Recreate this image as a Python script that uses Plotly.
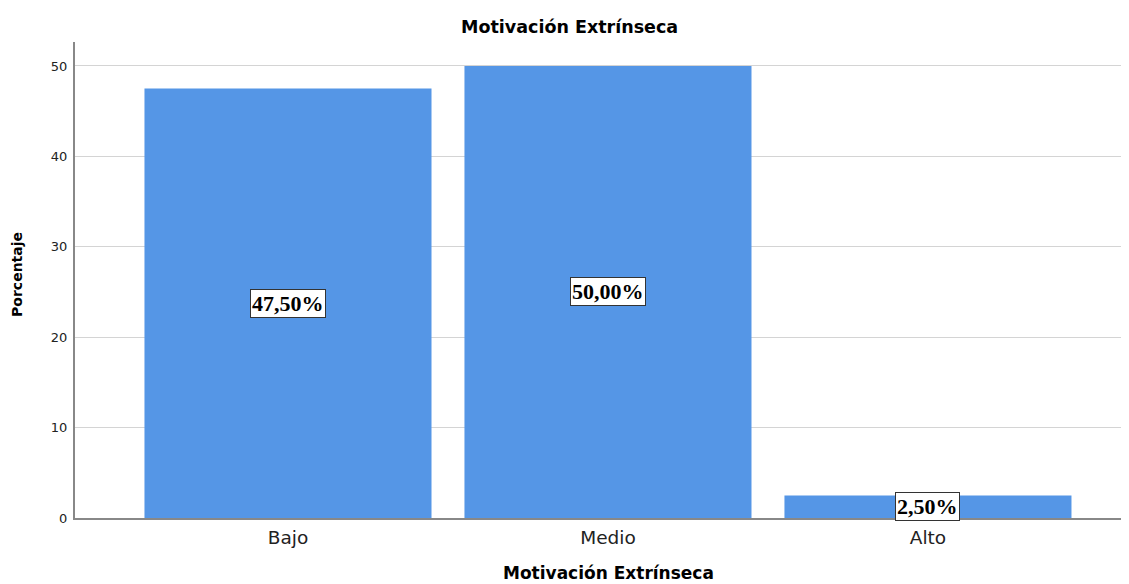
import plotly.graph_objects as go

categorias = ["Bajo", "Medio", "Alto"]
porcentajes = [47.5, 50.0, 2.5]
etiquetas = ["47,50%", "50,00%", "2,50%"]
y_ticks = [0, 10, 20, 30, 40, 50]

fig = go.Figure(go.Bar(
    x=categorias, y=porcentajes,
    marker=dict(color="#5596e6", line=dict(width=0)),
    width=0.897,
))

# etiquetas con caja blanca en el centro de cada barra
for c, v, t in zip(categorias, porcentajes, etiquetas):
    fig.add_annotation(x=c, y=v / 2, text="<b>" + t + "</b>", showarrow=False,
                       font=dict(family="Liberation Serif", size=22, color="black"),
                       bgcolor="white", bordercolor="#333333", borderwidth=1, borderpad=1)

titulo_font = dict(family="DejaVu Sans", size=17.5, color="black")
fig.add_annotation(xref="paper", yref="paper", x=0.4705, y=1.0315,
                   text="<b>Motivación Extrínseca</b>", showarrow=False,
                   font=titulo_font, xanchor="center", yanchor="middle")
fig.add_annotation(xref="paper", yref="paper", x=0.5067, y=-0.1155,
                   text="<b>Motivación Extrínseca</b>", showarrow=False,
                   font=dict(family="DejaVu Sans", size=17, color="black"),
                   xanchor="center", yanchor="middle")
fig.add_annotation(xref="paper", yref="paper", x=-0.0547, y=0.5116,
                   text="<b>Porcentaje</b>", showarrow=False, textangle=-90,
                   font=dict(family="DejaVu Sans", size=14, color="black"),
                   xanchor="center", yanchor="middle")

# la pagina tiene un margen de 8px alrededor de la figura
fig.update_layout(
    width=1121, height=576,
    margin=dict(l=67, r=2, t=34, b=66),
    plot_bgcolor="white", paper_bgcolor="white",
    showlegend=False,
    font=dict(family="DejaVu Sans", color="#222222"),
    xaxis=dict(range=[-0.6656, 2.622], showgrid=False, showline=True,
               linecolor="#888888", linewidth=2, ticks="", automargin=False,
               tickfont=dict(size=18.5), ticklabelstandoff=2),
    yaxis=dict(range=[0, 52.65], tickvals=y_ticks, showgrid=True,
               gridcolor="#d4d4d4", gridwidth=1, showline=True, automargin=False,
               linecolor="#888888", linewidth=2, ticks="", tickfont=dict(size=13),
               ticklabelstandoff=3, zeroline=False),
)

fig.write_html("out.html")
